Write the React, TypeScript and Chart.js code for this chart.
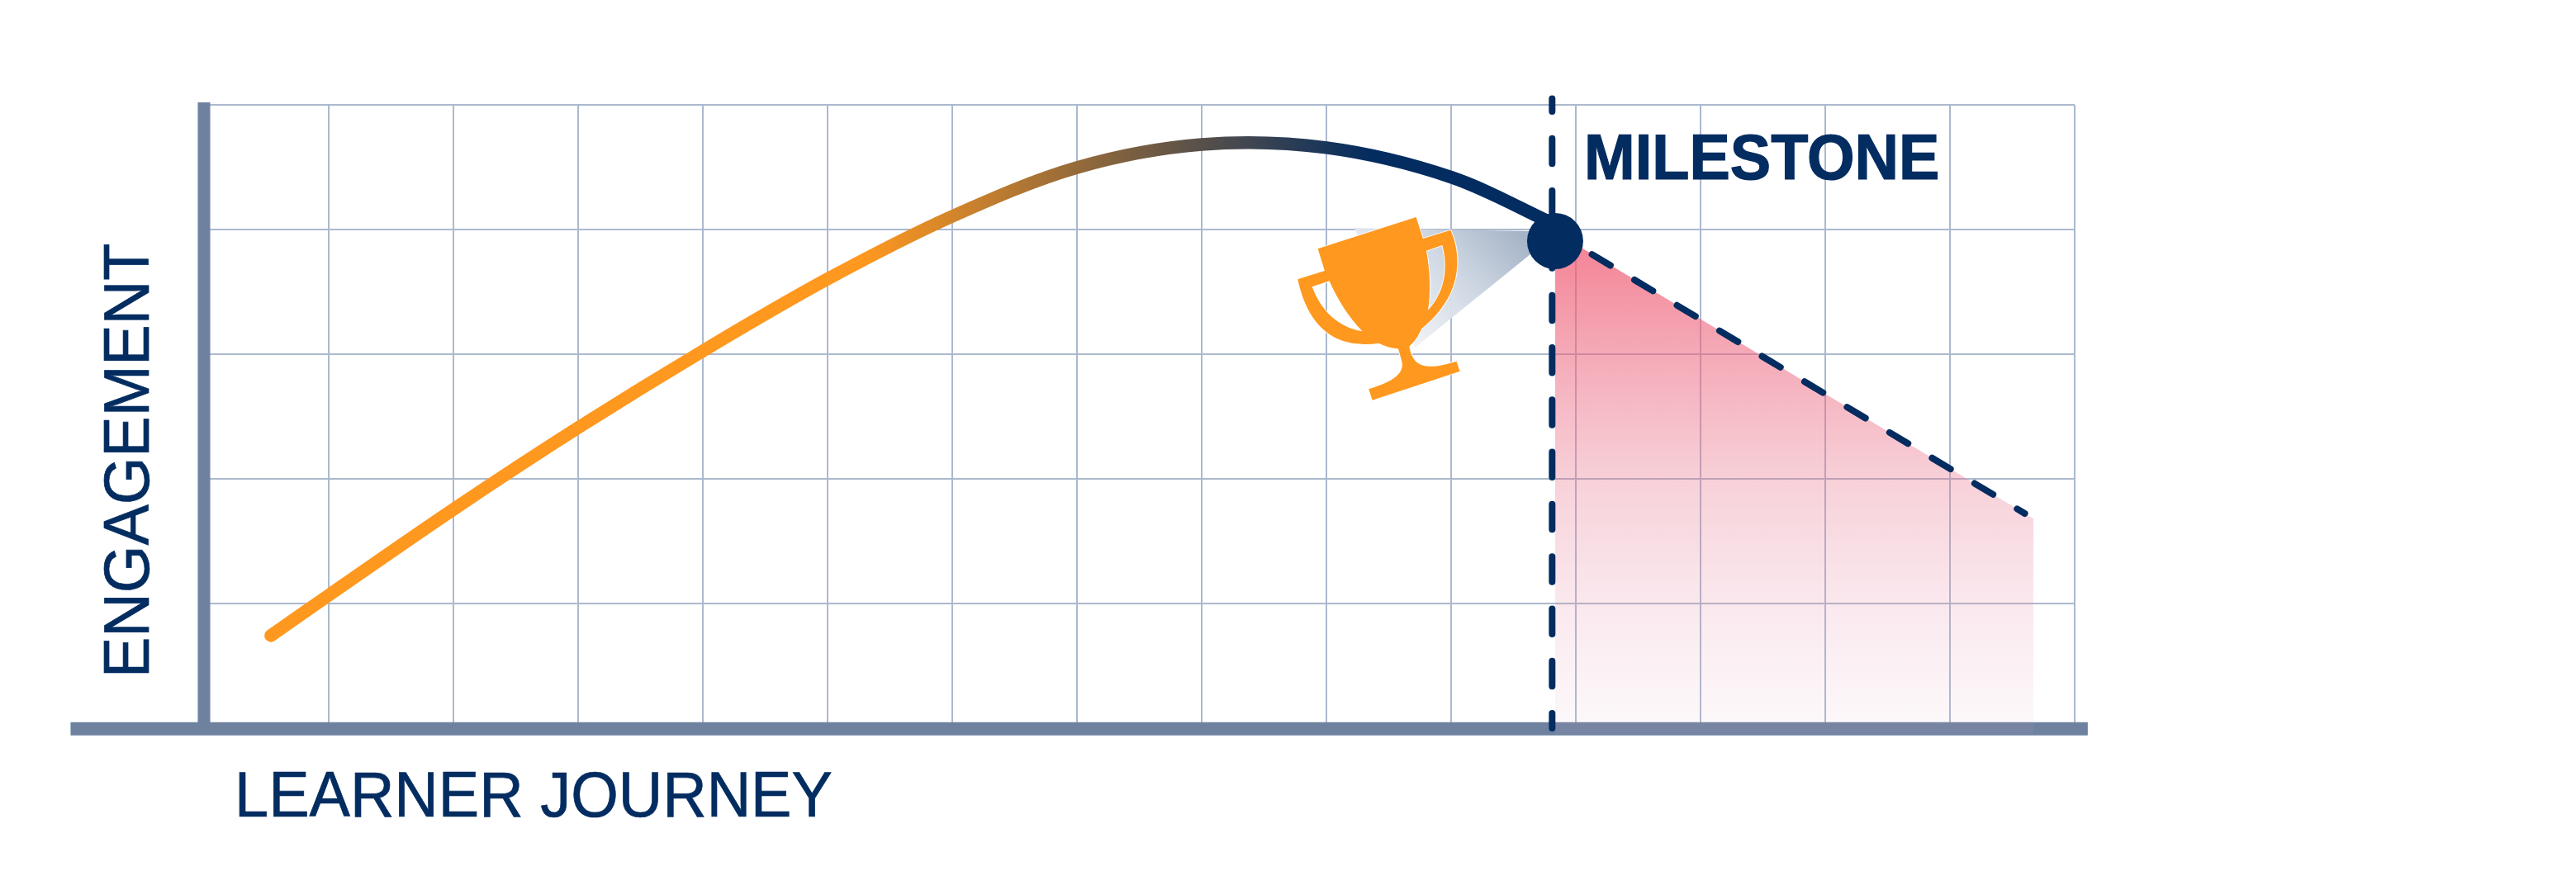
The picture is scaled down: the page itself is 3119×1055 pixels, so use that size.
import { useEffect, useRef } from "react"
import { Chart, registerables } from "chart.js"

Chart.register(...registerables)

const NAVY = "#032c60"
const ORANGE = "#ff981f"
const AXIS = "#6e82a0"
const GRID = "#abb9cd"

// grid is square, units are cells
const xTicks = [0, 1, 2, 3, 4, 5, 6, 7, 8, 9, 10, 11, 12, 13, 14, 15]
const yTicks = [0, 1, 2, 3, 4, 5]

const journeyX = [0.536, 1, 2, 3, 4, 5, 6, 7, 8, 9, 10, 10.834]
const journeyY = [0.742, 1.066, 1.755, 2.41, 3.026, 3.603, 4.106, 4.497, 4.682, 4.656, 4.42, 4.04]

const declineX = [10.834, 14.6]
const declineY = [3.977, 1.722]

const fillX = [10.834, 14.67]
const fillY = [3.98, 1.68]

const milestoneX = [10.81, 10.81]
const milestoneY = [5.05, 0]

const dotX = [10.834]
const dotY = [3.907]

const xAxisX = [-1.07, 15.105]
const xAxisY = [-0.005, -0.005]
const yAxisX = [0, 0]
const yAxisY = [5.02, 0]

const xy = (xs: number[], ys: number[]) => xs.map((x, i) => ({ x, y: ys[i] }))

// cone + trophy, traced at 3x around the dot
const trophyOutline =
  "M288 605 L645 490 L670 568 L770 537 C808 620 822 770 665 895 C650 930 635 945 620 960 " +
  "C630 1010 650 1035 710 1032 C740 1030 770 1020 792 1014 L804 1050 L486 1155 L473 1115 " +
  "C540 1095 610 1065 592 1010 L580 968 C550 965 530 958 510 948 C390 965 262 930 215 716 L313 685 Z " +
  "M267 743 L330 722 C360 790 400 855 450 905 C360 890 300 830 267 743 Z " +
  "M682 612 L740 592 C765 680 745 770 688 828 C700 760 695 680 682 612 Z"

const trophyPlugin = {
  id: "trophy",
  beforeDatasetsDraw(chart: any) {
    const { ctx, scales } = chart
    const px = scales.x.getPixelForValue(dotX[0])
    const py = scales.y.getPixelForValue(dotY[0])
    ctx.save()
    ctx.translate(px, py)
    ctx.scale(1 / 3, 1 / 3)
    ctx.translate(-1150, -577)

    const cone = ctx.createLinearGradient(1055, 585, 640, 965)
    cone.addColorStop(0, "#a6b4c7")
    cone.addColorStop(0.45, "#cdd6e2")
    cone.addColorStop(1, "rgba(240,243,247,0.9)")
    ctx.fillStyle = cone
    ctx.beginPath()
    ctx.moveTo(1055, 541)
    ctx.lineTo(420, 530)
    ctx.lineTo(640, 965)
    ctx.lineTo(1060, 625)
    ctx.closePath()
    ctx.fill()

    const path = new Path2D(trophyOutline)
    ctx.fillStyle = ORANGE
    ctx.strokeStyle = "#ffffff"
    ctx.lineWidth = 5
    ctx.stroke(path)
    ctx.fill(path, "evenodd")
    ctx.restore()
  },
}

// reference type is a little narrower and heavier than Liberation Sans
const NARROW = 0.955

const labelsPlugin = {
  id: "labels",
  afterDraw(chart: any) {
    const { ctx } = chart
    const label = (text: string, x: number, y: number, font: string, heavy: number, rotate = 0) => {
      ctx.save()
      ctx.translate(x, y)
      ctx.rotate(rotate)
      ctx.scale(NARROW, 1)
      ctx.font = font
      ctx.lineWidth = heavy
      ctx.strokeText(text, 0, 0)
      ctx.fillText(text, 0, 0)
      ctx.restore()
    }
    ctx.save()
    ctx.fillStyle = NAVY
    ctx.strokeStyle = NAVY
    ctx.textBaseline = "alphabetic"
    ctx.textAlign = "left"
    label("MILESTONE", 1918, 217, 'bold 77.5px "Liberation Sans"', 1.2)
    label("LEARNER JOURNEY", 284, 989, '77.5px "Liberation Sans"', 0.7)
    label("ENGAGEMENT", 180, 821, '77.5px "Liberation Sans"', 0.7, -Math.PI / 2)
    ctx.restore()
  },
}

export default function App() {
  const chartRef = useRef<HTMLCanvasElement>(null)

  useEffect(() => {
    if (!chartRef.current) return
    document.body.style.margin = "0"

    const chart = new Chart(chartRef.current, {
      type: "line",
      data: {
        datasets: [
          {
            label: "Milestone dot",
            data: xy(dotX, dotY),
            showLine: false,
            pointRadius: 34,
            pointBackgroundColor: NAVY,
            pointBorderWidth: 0,
            order: 0,
            clip: false,
          },
          {
            label: "Milestone",
            data: xy(milestoneX, milestoneY),
            borderColor: NAVY,
            borderWidth: 8,
            borderDash: [30.5, 32.8],
            borderDashOffset: 15,
            borderCapStyle: "round",
            pointRadius: 0,
            order: 1,
            clip: false,
          },
          {
            label: "Decline",
            data: xy(declineX, declineY),
            borderColor: NAVY,
            borderWidth: 8,
            borderDash: [26, 34],
            borderDashOffset: 8,
            borderCapStyle: "round",
            pointRadius: 0,
            order: 2,
          },
          {
            label: "Engagement",
            data: xy(journeyX, journeyY),
            borderColor: (context: any) => {
              const { chart } = context
              if (!chart.chartArea) return ORANGE
              const g = chart.ctx.createLinearGradient(
                chart.scales.x.getPixelForValue(5.28), 0,
                chart.scales.x.getPixelForValue(9.36), 0,
              )
              g.addColorStop(0, ORANGE)
              g.addColorStop(1, NAVY)
              return g
            },
            borderWidth: 15.5,
            borderCapStyle: "round",
            tension: 0.33,
            pointRadius: 0,
            order: 3,
          },
          {
            label: "Drop area",
            data: xy(fillX, fillY),
            borderWidth: 0,
            pointRadius: 0,
            fill: "start",
            backgroundColor: (context: any) => {
              const { chart } = context
              if (!chart.chartArea) return "transparent"
              const { y } = chart.scales
              const g = chart.ctx.createLinearGradient(0, y.getPixelForValue(3.9), 0, y.getPixelForValue(-0.05))
              g.addColorStop(0, "rgba(240,88,112,0.74)")
              g.addColorStop(0.5, "rgba(232,110,135,0.31)")
              g.addColorStop(1, "rgba(225,170,200,0.07)")
              return g
            },
            order: 4,
          },
          {
            label: "x axis",
            data: xy(xAxisX, xAxisY),
            borderColor: AXIS,
            borderWidth: 16,
            pointRadius: 0,
            order: 5,
            clip: false,
          },
          {
            label: "y axis",
            data: xy(yAxisX, yAxisY),
            borderColor: AXIS,
            borderWidth: 15,
            pointRadius: 0,
            order: 6,
            clip: false,
          },
        ],
      },
      options: {
        responsive: false,
        animation: false,
        layout: { padding: { left: 247, right: 607, top: 127, bottom: 165.5 } },
        plugins: { legend: { display: false }, tooltip: { enabled: false } },
        scales: {
          x: {
            type: "linear",
            min: 0,
            max: 15,
            border: { display: false },
            grid: { color: GRID, lineWidth: 2, drawTicks: false },
            ticks: { display: false },
            afterBuildTicks: (axis: any) => {
              axis.ticks = xTicks.map((value) => ({ value }))
            },
          },
          y: {
            type: "linear",
            min: -0.05,
            max: 5,
            border: { display: false },
            grid: { color: GRID, lineWidth: 2, drawTicks: false },
            ticks: { display: false },
            afterBuildTicks: (axis: any) => {
              axis.ticks = yTicks.map((value) => ({ value }))
            },
          },
        },
      },
      plugins: [trophyPlugin, labelsPlugin],
    } as any)

    return () => chart.destroy()
  }, [])

  return (
    <div style={{ width: 3119, height: 1055, background: "#ffffff" }}>
      <canvas ref={chartRef} width={3119} height={1055} style={{ display: "block" }} />
    </div>
  )
}
